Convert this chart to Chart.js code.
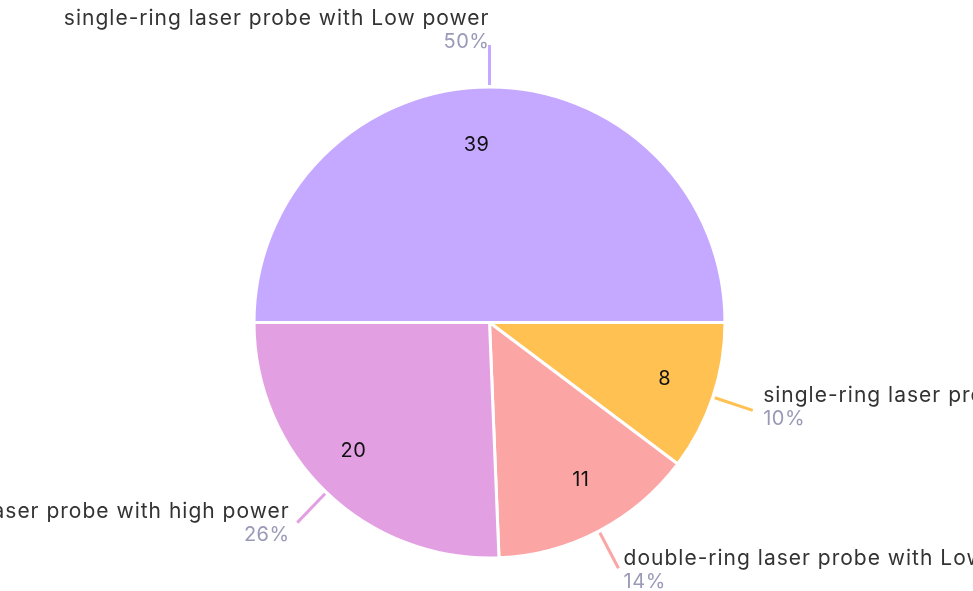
<!DOCTYPE html>
<html>
<head>
<meta charset="utf-8">
<script src="https://cdn.jsdelivr.net/npm/chart.js@4.4.1/dist/chart.umd.min.js"></script>
<style>
  html, body { margin: 0; padding: 0; background: #fff; }
  #wrap { width: 973px; height: 591px; position: relative; }
</style>
</head>
<body>
<div id="wrap"><canvas id="pie_chart"></canvas></div>
<script>
var labels = [
    "single-ring laser probe with Low power",
    "single-ring laser probe with high power",
    "double-ring laser probe with Low power",
    "double-ring laser probe with high power"
];
var values = [39, 8, 11, 20];
var colors = ["#c5a8ff", "#ffc152", "#fca5a5", "#e2a0e3"];

var font_family = "Inter, sans-serif";

// value inside each slice, leader line + name + percent outside
var outside_labels = {
    id: "outsideLabels",
    afterDatasetsDraw: (chart) => {
        var ctx = chart.ctx;
        var meta = chart.getDatasetMeta(0);
        var data = chart.data.datasets[0].data;
        var total = data.reduce((a, b) => a + b, 0);
        meta.data.forEach((arc, i) => {
            var p = arc.getProps(["x", "y", "startAngle", "endAngle", "outerRadius"], true);
            var mid = (p.startAngle + p.endAngle) / 2;
            var cos = Math.cos(mid), sin = Math.sin(mid);
            var r = p.outerRadius;
            var right = cos > 0.01;

            ctx.save();
            // value in slice
            ctx.fillStyle = "#111";
            ctx.font = "20px " + font_family;
            ctx.letterSpacing = "0.5px";
            ctx.textAlign = right ? "left" : "right";
            ctx.textBaseline = "middle";
            ctx.fillText(data[i], p.x + cos * r * 0.755, p.y + sin * r * 0.755);

            // leader line
            var x1 = p.x + cos * (r + 2), y1 = p.y + sin * (r + 2);
            var x2 = p.x + cos * (r + 42), y2 = p.y + sin * (r + 42);
            ctx.strokeStyle = colors[i];
            ctx.lineWidth = 3;
            ctx.beginPath();
            ctx.moveTo(x1, y1);
            ctx.lineTo(x2, y2);
            ctx.stroke();

            // name + percent
            var tx = x2 + 11 * cos;
            var base = y2 - 11 + sin * 9;
            ctx.textAlign = right ? "left" : "right";
            ctx.textBaseline = "alphabetic";
            ctx.letterSpacing = "1px";
            ctx.fillStyle = "#333";
            ctx.font = "21px " + font_family;
            ctx.fillText(labels[i], tx, base);
            ctx.letterSpacing = "0.5px";
            ctx.fillStyle = "#9a9ab8";
            ctx.font = "20px " + font_family;
            ctx.fillText(Math.round(data[i] / total * 100) + "%", tx, base + 23);
            ctx.restore();
        });
    }
};

var canva = document.getElementById("pie_chart");
var config = {
    type: "pie",
    data: {
        labels: labels,
        datasets: [{
            data: values,
            backgroundColor: colors,
            borderColor: "#fff",
            borderWidth: 3,
            hoverBorderWidth: 3,
            hoverOffset: 0,
            radius: 235.5
        }]
    },
    options: {
        responsive: true,
        maintainAspectRatio: false,
        animation: false,
        rotation: -90,
        layout: { padding: { top: 60, bottom: 6, left: 200, right: 194 } },
        plugins: {
            legend: { display: false },
            tooltip: { enabled: false }
        }
    },
    plugins: [outside_labels]
};
new Chart(canva, config);
</script>
</body>
</html>
